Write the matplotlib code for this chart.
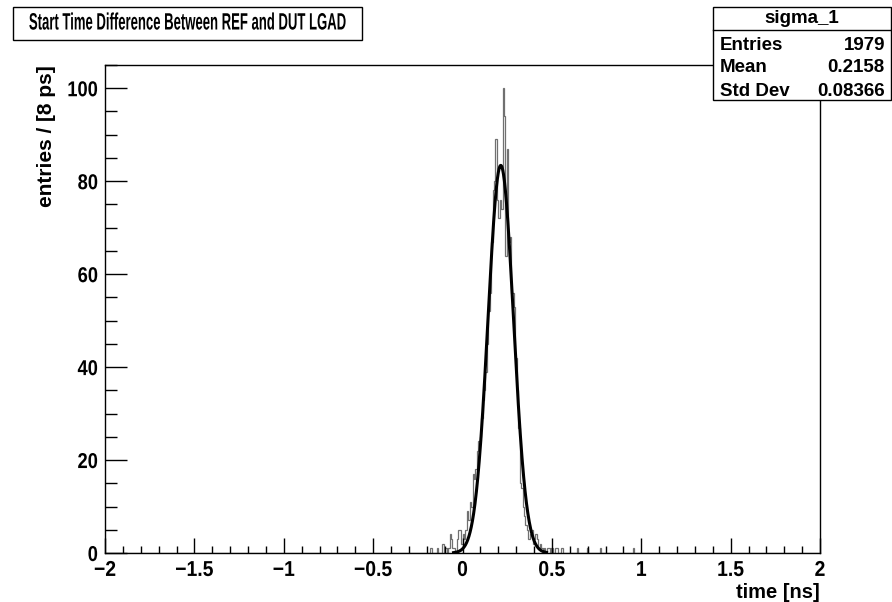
import numpy as np
import matplotlib
matplotlib.use('Agg')
import matplotlib.pyplot as plt
from matplotlib.patches import Rectangle
from matplotlib.ticker import MultipleLocator
from matplotlib.transforms import Affine2D
from matplotlib import patheffects

plt.rcParams['font.family'] = ['Liberation Sans', 'DejaVu Sans']
plt.rcParams['font.weight'] = 'bold'

# ---- histogram: 500 bins of 8 ps over [-2, 2] ns ----
x_min, x_max, n_bins = -2.0, 2.0, 500
# counts of the populated region, bins starting at -0.200 ns
core_start = -0.200
core_counts = [
    0, 0, 1, 1, 0, 0, 0, 1, 0, 0,
    0, 2, 0, 1, 0, 1, 4, 3, 1, 1,
    0, 3, 5, 5, 2, 4, 3, 5, 9, 7,
    11, 10, 17, 16, 18, 22, 24, 25, 29, 33,
    35, 39, 45, 52, 56, 67, 78, 80, 89, 76,
    72, 76, 74, 100, 94, 64, 87, 67, 68, 56,
    56, 53, 42, 35, 27, 15, 14, 10, 8, 6,
    5, 3, 4, 5, 2, 3, 4, 3, 1, 2,
    1, 0, 1, 0, 1, 1, 0, 1, 0, 0,
    1, 1, 0, 0, 1, 0, 0, 0, 0, 0,
]
# isolated single entries further out (ns)
outlier_times = [0.644, 0.700, 0.772, 0.956]

# gaussian fit result
fit_const, fit_mean, fit_sigma = 83.4, 0.214, 0.071
fit_range = (-0.05, 0.47)

x_ticks = [-2, -1.5, -1, -0.5, 0, 0.5, 1, 1.5, 2]
x_tick_labels = ['\u22122', '\u22121.5', '\u22121', '\u22120.5', '0', '0.5', '1', '1.5', '2']
y_ticks = [0, 20, 40, 60, 80, 100]
y_tick_labels = ['0', '20', '40', '60', '80', '100']

stats_name = "sigma_1"
stats_rows = [("Entries", "1979"), ("Mean", "0.2158"), ("Std Dev", "0.08366")]
title = "Start Time Difference Between REF and DUT LGAD"


class HSqueeze(patheffects.AbstractPathEffect):
    """draw text narrower (ROOT uses a condensed helvetica)"""
    def __init__(self, factor, anchor='center'):
        super().__init__()
        self.factor = factor
        self.anchor = anchor

    def draw_path(self, renderer, gc, tpath, affine, rgbFace=None):
        ext = tpath.get_extents(affine)
        if self.anchor == 'right':
            cx = ext.x1
        elif self.anchor == 'left':
            cx = ext.x0
        else:
            cx = 0.5 * (ext.x0 + ext.x1)
        t = affine + Affine2D().translate(-cx, 0).scale(self.factor, 1).translate(cx, 0)
        renderer.draw_path(gc, tpath, t, rgbFace)


edges = np.linspace(x_min, x_max, n_bins + 1)
counts = np.zeros(n_bins)
k0 = int(round((core_start - x_min) / 0.008))
counts[k0:k0 + len(core_counts)] = core_counts
for t in outlier_times:
    counts[int((t - x_min) / 0.008)] += 1

fig = plt.figure(figsize=(8.92, 6.02), dpi=100)
ax = fig.add_axes([105 / 892, 49 / 602, 715 / 892, 488 / 602])

ax.stairs(counts, edges, color='#707070', linewidth=0.9, baseline=0)
xf = np.linspace(fit_range[0], fit_range[1], 400)
ax.plot(xf, fit_const * np.exp(-0.5 * ((xf - fit_mean) / fit_sigma) ** 2),
        color='black', linewidth=2.2)

ax.set_xlim(x_min, x_max)
ax.set_ylim(0, 105)
ax.set_xticks(x_ticks)
ax.set_xticklabels(x_tick_labels)
ax.set_yticks(y_ticks)
ax.set_yticklabels(y_tick_labels)
ax.xaxis.set_minor_locator(MultipleLocator(0.1))
ax.yaxis.set_minor_locator(MultipleLocator(5))
ax.tick_params(axis='x', which='major', direction='in', length=10.5, width=1.0,
               labelsize=15.5, pad=5)
ax.tick_params(axis='x', which='minor', direction='in', length=5.2, width=1.0)
ax.tick_params(axis='y', which='major', direction='in', length=15.8, width=1.0,
               labelsize=15.5, pad=5)
ax.tick_params(axis='y', which='minor', direction='in', length=8.5, width=1.0)
for lab in ax.get_xticklabels():
    lab.set_path_effects([HSqueeze(0.9, 'center')])
for lab in ax.get_yticklabels():
    lab.set_path_effects([HSqueeze(0.85, 'right')])
for sp in ax.spines.values():
    sp.set_linewidth(1.0)

ax.set_xlabel("time [ns]", fontsize=14.5, fontweight='bold', ha='right', va='top')
ax.xaxis.set_label_coords(1.0, -0.061)
ax.set_ylabel("entries / [8 ps]", fontsize=15, fontweight='bold', loc='top', labelpad=4)

# title box
fig.patches.append(Rectangle((13 / 892, 1 - 40 / 602), 349 / 892, 33 / 602,
                             transform=fig.transFigure, fill=False,
                             edgecolor='black', linewidth=1.0))
fig.text(188 / 892, 1 - 23 / 602, title, ha='center', va='center',
         fontsize=17, fontweight='bold', path_effects=[HSqueeze(0.555, 'center')])

# stats box
fig.patches.append(Rectangle((713 / 892, 1 - 100 / 602), 178 / 892, 93 / 602,
                             transform=fig.transFigure, facecolor='white',
                             edgecolor='black', linewidth=1.0, zorder=5))
fig.lines.append(plt.Line2D([713 / 892, 891 / 892], [1 - 30 / 602, 1 - 30 / 602],
                            transform=fig.transFigure, color='black', linewidth=1.0,
                            zorder=6))
fig.text(802 / 892, 1 - 18.5 / 602, stats_name, ha='center', va='center',
         fontsize=13.5, fontweight='bold', zorder=7)
for i, (lab, val) in enumerate(stats_rows):
    y = 1 - (45 + 23 * i) / 602
    fig.text(720 / 892, y, lab, ha='left', va='center', fontsize=13.5,
             fontweight='bold', zorder=7)
    fig.text(885 / 892, y, val, ha='right', va='center', fontsize=13.5,
             fontweight='bold', zorder=7)

fig.savefig("out.png", dpi=100)
